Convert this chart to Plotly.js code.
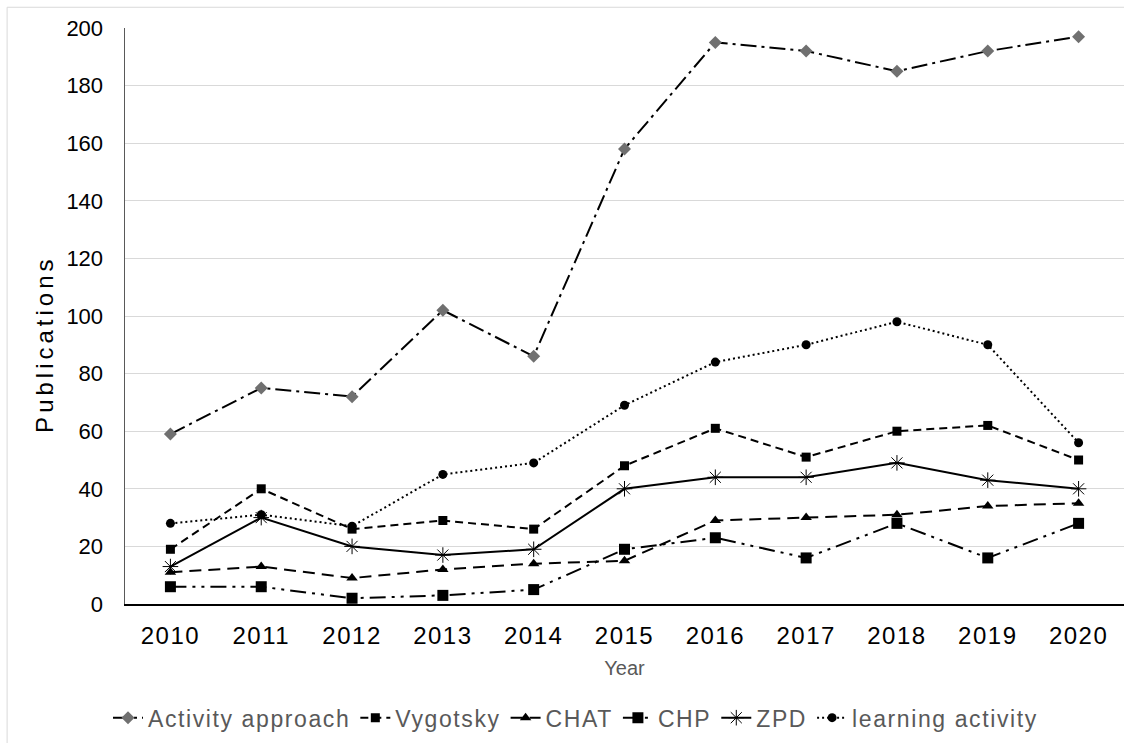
<!DOCTYPE html>
<html>
<head>
<meta charset="utf-8">
<script src="https://cdn.plot.ly/plotly-3.0.1.min.js"></script>
<style>
html,body{margin:0;padding:0;background:#fff;}
#chart{width:1124px;height:743px;}
.legendtext{letter-spacing:1.6px;}
.xtick text{letter-spacing:1.5px;}
.annotation-text{letter-spacing:4px;}
</style>
</head>
<body>
<div id="chart"></div>
<script>
var years = ["2010","2011","2012","2013","2014","2015","2016","2017","2018","2019","2020"];
var activityApproach = [59, 75, 72, 102, 86, 158, 195, 192, 185, 192, 197];
var vygotsky = [19, 40, 26, 29, 26, 48, 61, 51, 60, 62, 50];
var chat = [11, 13, 9, 12, 14, 15, 29, 30, 31, 34, 35];
var chp = [6, 6, 2, 3, 5, 19, 23, 16, 28, 16, 28];
var zpd = [13, 30, 20, 17, 19, 40, 44, 44, 49, 43, 40];
var learningActivity = [28, 31, 27, 45, 49, 69, 84, 90, 98, 90, 56];
var yTicks = [0, 20, 40, 60, 80, 100, 120, 140, 160, 180, 200];

var traces = [
  {name: "Activity approach", x: years, y: activityApproach, mode: "lines+markers",
   line: {color: "#000000", width: 2, dash: "16px,5px,3px,5px"},
   marker: {symbol: "diamond", size: 10, color: "#707070"}},
  {name: "Vygotsky", x: years, y: vygotsky, mode: "lines+markers",
   line: {color: "#000000", width: 2, dash: "8px,5px"},
   marker: {symbol: "square", size: 9, color: "#000000"}},
  {name: "CHAT", x: years, y: chat, mode: "lines+markers",
   line: {color: "#000000", width: 2, dash: "12px,7px"},
   marker: {symbol: "triangle-up", size: 10, color: "#000000"}},
  {name: "CHP", x: years, y: chp, mode: "lines+markers",
   line: {color: "#000000", width: 2, dash: "16px,6px,3px,6px,3px,6px"},
   marker: {symbol: "square", size: 11, color: "#000000"}},
  {name: "ZPD", x: years, y: zpd, mode: "lines+markers",
   line: {color: "#000000", width: 2},
   marker: {symbol: "asterisk-open", size: 13, color: "#000000", line: {width: 1, color: "#000000"}}},
  {name: "learning activity", x: years, y: learningActivity, mode: "lines+markers",
   line: {color: "#000000", width: 2, dash: "2px,3px"},
   marker: {symbol: "circle", size: 9, color: "#000000"}}
];

var layout = {
  width: 1124, height: 743,
  margin: {l: 125, r: 0, t: 28, b: 139},
  paper_bgcolor: "#ffffff", plot_bgcolor: "#ffffff",
  font: {family: "Liberation Sans, Arial, sans-serif", color: "#000000"},
  showlegend: true,
  xaxis: {
    type: "category", range: [-0.5, 10.5],
    showgrid: false, showline: true, linecolor: "#000000", linewidth: 1.5,
    ticks: "", tickfont: {size: 24, color: "#000000"},
    ticklabelstandoff: 10,
    title: {text: "Year", font: {size: 20, color: "#595959"}, standoff: 12},
    fixedrange: true
  },
  yaxis: {
    range: [0, 200], tickvals: yTicks, ticktext: yTicks.map(String),
    showgrid: true, gridcolor: "#d9d9d9", gridwidth: 1,
    showline: true, linecolor: "#595959", linewidth: 1.5,
    zeroline: false, ticks: "", tickfont: {size: 22, color: "#000000"},
    ticklabelstandoff: 16,
    fixedrange: true
  },
  annotations: [{
    text: "Publications", xref: "paper", yref: "paper", x: -0.08, y: 0.45,
    xanchor: "center", yanchor: "middle", textangle: -90, showarrow: false,
    font: {size: 24, color: "#000000"}
  }],
  legend: {
    orientation: "h", xref: "container", yref: "container",
    x: 0.512, xanchor: "center", y: 0.034, yanchor: "middle",
    font: {size: 23, color: "#595959"}, traceorder: "normal",
    itemwidth: 30, tracegroupgap: 0
  },
  shapes: [{type: "rect", xref: "paper", yref: "paper", x0: -0.118, x1: 1.05, y0: -0.3, y1: 1.036,
            line: {color: "#d9d9d9", width: 1}, layer: "below"}]
};

Plotly.newPlot("chart", traces, layout, {displayModeBar: false, staticPlot: true});
</script>
</body>
</html>
